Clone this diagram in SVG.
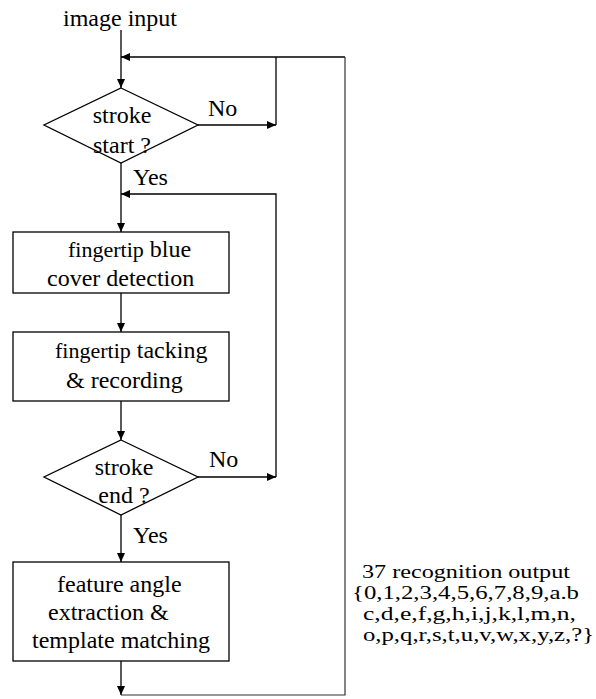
<svg xmlns="http://www.w3.org/2000/svg" width="596" height="699" viewBox="0 0 596 699">
<defs>
<marker id="ah" markerWidth="10" markerHeight="8" refX="9" refY="4" orient="auto" markerUnits="userSpaceOnUse">
<path d="M0,0 L9,4 L0,8 Z" fill="#000"/>
</marker>
<style>
text{font-family:"Liberation Serif","Times New Roman",serif;font-size:24px;fill:#000}
.n{fill:#fff;stroke:#000;stroke-width:1.3}
.c{fill:none;stroke:#000;stroke-width:1.3}
.g{fill:none;stroke:#333;stroke-width:1.2}
.o{font-size:19px}
.s{font-size:22px}
</style>
</defs>
<rect width="596" height="699" fill="#fff"/>
<g id="connectors">
<line class="c" x1="121" y1="30" x2="121" y2="88" marker-end="url(#ah)"/>
<polyline class="c" points="345,57 121,57" marker-end="url(#ah)"/>
<line class="c" x1="276" y1="57" x2="276" y2="125"/>
<line class="c" x1="198" y1="125" x2="276" y2="125" marker-end="url(#ah)"/>
<line class="c" x1="121" y1="163" x2="121" y2="232" marker-end="url(#ah)"/>
<polyline class="c" points="276,477 276,194 121,194" marker-end="url(#ah)"/>
<line class="c" x1="121" y1="293" x2="121" y2="332" marker-end="url(#ah)"/>
<line class="c" x1="121" y1="401" x2="121" y2="440" marker-end="url(#ah)"/>
<line class="c" x1="198" y1="477" x2="276" y2="477" marker-end="url(#ah)"/>
<line class="c" x1="121" y1="515" x2="121" y2="562" marker-end="url(#ah)"/>
<line class="c" x1="121" y1="661" x2="121" y2="695" marker-end="url(#ah)"/>
<polyline class="g" points="121,695 345,695 345,57"/>
<text x="208" y="116">No</text>
<text x="133" y="185">Yes</text>
<text x="209" y="467">No</text>
<text x="133" y="543">Yes</text>
</g>
<g id="input"><text x="120" y="26" text-anchor="middle">image input</text></g>
<g id="strokeStart">
<polygon class="n" points="121,88 198,125 121,163 44,125"/>
<text x="122" y="123" text-anchor="middle">stroke</text>
<text x="122" y="153" text-anchor="middle">start ?</text>
</g>
<g id="detect">
<rect class="n" x="13" y="232" width="216" height="61"/>
<text x="68" y="257"><tspan class="s">fingertip</tspan> blue</text>
<text x="47" y="286">cover detection</text>
</g>
<g id="track">
<rect class="n" x="13" y="332" width="216" height="69"/>
<text x="55" y="358"><tspan class="s">fingertip</tspan> tacking</text>
<text x="66" y="388">&amp; recording</text>
</g>
<g id="strokeEnd">
<polygon class="n" points="121,440 198,477 121,515 44,477"/>
<text x="124" y="475" text-anchor="middle">stroke</text>
<text x="124" y="503" text-anchor="middle">end ?</text>
</g>
<g id="match">
<rect class="n" x="13" y="562" width="216" height="99"/>
<text x="57" y="592">feature angle</text>
<text x="48" y="620">extraction &amp;</text>
<text x="32" y="648">template matching</text>
</g>
<g id="output">
<text class="o" x="362" y="578" textLength="208" lengthAdjust="spacingAndGlyphs">37 recognition output</text>
<text class="o" x="352" y="599" textLength="227" lengthAdjust="spacingAndGlyphs">{0,1,2,3,4,5,6,7,8,9,a.b</text>
<text class="o" x="363" y="620" textLength="213" lengthAdjust="spacingAndGlyphs">c,d,e,f,g,h,i,j,k,l,m,n,</text>
<text class="o" x="363" y="641" textLength="231" lengthAdjust="spacingAndGlyphs">o,p,q,r,s,t,u,v,w,x,y,z,?}</text>
</g>
</svg>
